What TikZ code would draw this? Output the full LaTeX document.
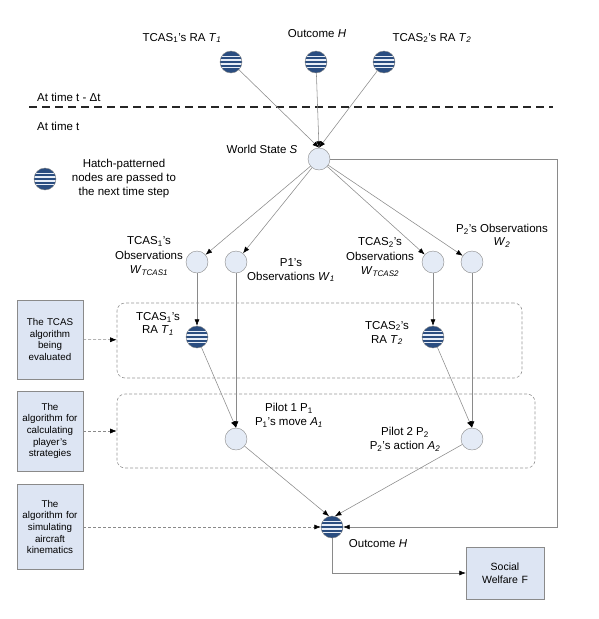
\documentclass[tikz,border=0pt]{standalone}
\usepackage{fontspec}
\setmainfont{Liberation Sans}
\usetikzlibrary{positioning, calc, arrows.meta}
\definecolor{hatchblue}{HTML}{2A4D80}
\definecolor{hatchlight}{HTML}{E8EEF7}
\definecolor{nodefill}{HTML}{E4EBF6}
\definecolor{boxfill}{HTML}{DDE5F3}
\definecolor{edgegray}{HTML}{8A8A8A}
\newcommand{\vsub}[2]{\textit{#1}\textsubscript{\textit{#2}}}
\tikzstyle{Arrow} = [draw=edgegray, line width=0.55pt,
-{Latex[length=6.5pt, width=5pt, black]}]
\tikzstyle{DashArrow} = [Arrow, dash pattern=on 3pt off 2pt]
\tikzstyle{state} = [circle, draw=edgegray, fill=nodefill,
minimum size=22pt, inner sep=0pt]
\tikzstyle{hatch} = [state, fill=hatchblue,
path picture={\foreach \dy in {-5.6,-1.9,1.9,5.6}
\draw[hatchlight, line width=1.5pt]
([yshift=\dy pt]path picture bounding box.west) --
([yshift=\dy pt]path picture bounding box.east);}]
\tikzstyle{algbox} = [draw=edgegray, fill=boxfill, align=center,
text width=62pt, minimum width=66pt, inner sep=1pt,
font=\fontsize{9.8}{11.7}\selectfont]
\tikzstyle{group} = [draw=edgegray!90, line width=0.6pt,
dash pattern=on 3pt off 2pt, rounded corners=8pt]
\tikzstyle{lbl} = [align=center, inner sep=0pt,
font=\fontsize{11.5}{14}\selectfont]
\tikzstyle{TimeLine} = [line width=1.2pt, draw=black!85,
dash pattern=on 8pt off 5pt]

\begin{document}
\begin{tikzpicture}[x=1pt, y=-1pt]
    \useasboundingbox (0,0) rectangle (598,619);
    \node (t1) [hatch] at (231,62) {};
    \node (h0) [hatch] at (316,62) {};
    \node (t2) [hatch] at (384,62) {};
    \node [lbl] at (182,38) {TCAS\textsubscript{1}'s RA \vsub{T}{1}};
    \node [lbl] at (317,34) {Outcome \textit{H}};
    \node [lbl] at (432,38) {TCAS\textsubscript{2}'s RA \vsub{T}{2}};
    \coordinate (tl) at (29,107);
    \coordinate (tr) at (553,107);
    \draw[TimeLine] (tl) -- (tr);
    \node [lbl, anchor=west] at (37,97) {At time t - Δt};
    \node [lbl, anchor=west] at (37,126) {At time t};
    \node (S) [state] at (319,159) {};
    \node [lbl] at (262,149) {World State \textit{S}};
    \node (key) [hatch] at (45,179) {};
    \node [lbl] at (124,179) {Hatch-patterned\\nodes are passed to\\the next time step};
    \node (o1) [state] at (197,262) {};
    \node (o2) [state] at (236,262) {};
    \node (o3) [state] at (433,262) {};
    \node (o4) [state] at (472,262) {};
    \node [lbl, font=\fontsize{11.5}{14.5}\selectfont] at (149,256)
        {TCAS\textsubscript{1}'s\\Observations\\\vsub{W}{TCAS1}};
    \node [lbl] at (291,270) {P1's\\Observations \vsub{W}{1}};
    \node [lbl, font=\fontsize{11.5}{14.5}\selectfont] at (380,257)
        {TCAS\textsubscript{2}'s\\Observations\\\vsub{W}{TCAS2}};
    \node [lbl, font=\fontsize{11.5}{13}\selectfont] at (502,236)
        {P\textsubscript{2}'s Observations\\\vsub{W}{2}};
    \node (g1) [group, minimum width=405pt, minimum height=75pt] at (319.5,340.5) {};
    \node (g2) [group, minimum width=418pt, minimum height=74pt] at (326,431) {};
    \node (r1) [hatch] at (197,337) {};
    \node (r2) [hatch] at (433,337) {};
    \node [lbl, font=\fontsize{11.5}{12.5}\selectfont] at (158,324)
        {TCAS\textsubscript{1}'s\\RA \vsub{T}{1}};
    \node [lbl, font=\fontsize{11.5}{14}\selectfont] at (387,333)
        {TCAS\textsubscript{2}'s\\RA \vsub{T}{2}};
    \node (p1) [state] at (236,439) {};
    \node (p2) [state] at (472,439) {};
    \node [lbl] at (289,415) {Pilot 1 P\textsubscript{1}\\P\textsubscript{1}'s move \vsub{A}{1}};
    \node [lbl] at (405,439) {Pilot 2 P\textsubscript{2}\\P\textsubscript{2}'s action \vsub{A}{2}};
    \node (H) [hatch] at (332,527) {};
    \node [lbl] at (378,544) {Outcome \textit{H}};
    \node (k1) [algbox, minimum height=79pt] at (50,339.5)
        {The TCAS\\algorithm\\being\\evaluated};
    \node (k2) [algbox, minimum height=80pt] at (50,431)
        {The\\algorithm for\\calculating\\player's\\strategies};
    \node (k3) [algbox, minimum height=85pt] at (50,527)
        {The\\algorithm for\\simulating\\aircraft\\kinematics};
    \node (F) [algbox, text width=70pt, minimum width=78pt, minimum height=52pt,
        font=\fontsize{10.5}{13}\selectfont] at (505,573) {Social\\Welfare F};
    \coordinate (loop) at (557,159);
    \draw[Arrow] (t1) -- (S.north);
    \draw[Arrow] (h0) -- (S.north);
    \draw[Arrow] (t2) -- (S.north);
    \draw[Arrow] (S) -- (o1);
    \draw[Arrow] (S) -- (o2);
    \draw[Arrow] (S) -- (o3);
    \draw[Arrow] (S) -- (o4);
    \draw[Arrow] (o1) -- (r1);
    \draw[Arrow] (o3) -- (r2);
    \draw[Arrow] (o2) -- (p1.north);
    \draw[Arrow] (r1) -- (p1.north);
    \draw[Arrow] (o4) -- (p2.north);
    \draw[Arrow] (r2) -- (p2.north);
    \draw[Arrow] (p1) -- (H.105);
    \draw[Arrow] (p2) -- (H.75);
    \draw[Arrow] (S) -- (loop) |- (H);
    \draw[Arrow] (H) |- (F);
    \draw[DashArrow] (k1) -- (g1);
    \draw[DashArrow] (k2) -- (g2);
    \draw[DashArrow] (k3) -- (H);
\end{tikzpicture}
\end{document}
